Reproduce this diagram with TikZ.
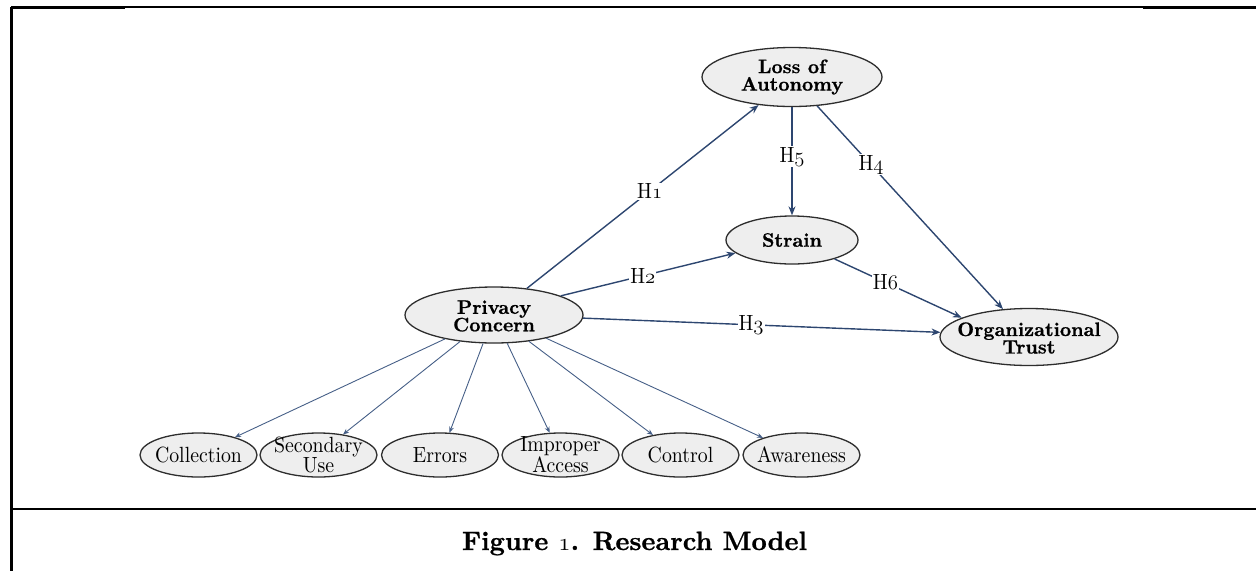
\documentclass[tikz,border=0pt]{standalone}
\usepackage{fontspec}
\setmainfont{lmroman10-regular.otf}[BoldFont=lmroman10-bold.otf, ItalicFont=lmroman10-italic.otf, BoldFeatures={FakeBold=0.8}]
\newfontfamily\narrowrm{lmroman10-regular.otf}[FakeStretch=0.9]
\usetikzlibrary{shapes.geometric,arrows.meta}
\definecolor{arr}{RGB}{45,70,112}
\definecolor{arrlight}{RGB}{70,95,135}
\definecolor{efill}{RGB}{238,238,238}
\definecolor{eline}{RGB}{45,45,45}
\newcommand{\osn}[1]{\legacyoldstylenums{#1}}
\begin{document}
\begin{tikzpicture}[x=1pt,y=-1pt,
  ell/.style={ellipse, draw=eline, fill=efill, line width=1.3pt, inner sep=0pt},
  bigtxt/.style={font=\fontsize{19.5}{17.5}\selectfont\bfseries, align=center, inner sep=0pt},
  smtxt/.style={font=\fontsize{22}{19}\selectfont\narrowrm, align=center, inner sep=0pt},
  harrow/.style={draw=arr, line width=1.4pt, -{Stealth[length=9pt,width=7pt]}},
  marrow/.style={draw=arrlight, line width=0.9pt, -{Stealth[length=6pt,width=5pt]}},
  hlab/.style={fill=white, inner sep=1pt, font=\fontsize{22}{22}\selectfont\narrowrm}]
\useasboundingbox (0,0) rectangle (1256,571);
% frame
\draw[line width=1.2pt] (11,7) -- (1256,7);
\draw[line width=2.6pt] (10,8) -- (125,8);
\draw[line width=2.6pt] (1143,8) -- (1256,8);
\draw[line width=2.5pt] (11.5,6.7) -- (11.5,571);
\draw[line width=2.5pt] (10,509) -- (1256,509);
% main nodes
\node[ell, minimum width=180, minimum height=59] (loa) at (792,77) {};
\node[bigtxt] (loat) at (792,77) {Loss of\\Autonomy};
\node[ell, minimum width=132, minimum height=48] (str) at (792,240) {};
\node[bigtxt] (strt) at (792,240) {Strain};
\node[ell, minimum width=178, minimum height=56] (pc) at (494,315) {};
\node[bigtxt] (pct) at (494,316) {Privacy\\Concern};
\node[ell, minimum width=178, minimum height=57] (ot) at (1029,337) {};
\node[bigtxt] (ott) at (1029,338) {Organizational\\Trust};
% bottom nodes
\foreach \nm/\xx/\tx in {coll/198.5/Collection, sec/318.5/{Secondary\\Use}, err/440/Errors, imp/560.5/{Improper\\Access}, con/680.5/Control, awa/801.5/Awareness}{
  \node[ell, minimum width=117, minimum height=44] (\nm) at (\xx,455) {};
  \node[smtxt] (\nm t) at (\xx,455) {\tx};
}
% hypotheses
\draw[harrow] (pc.39) -- node[hlab, pos=0.53] (h1) {H\osn{1}} (loa.220);
\draw[harrow] (pc.16) -- node[hlab, pos=0.47] (h2) {H\osn{2}} (str.193);
\draw[harrow] (pc.358) -- node[hlab, pos=0.47] (h3) {H\osn{3}} (ot.177);
\draw[harrow] (loa.311) -- node[hlab, pos=0.29] (h4) {H\osn{4}} (ot.133);
\draw[harrow] (loa.270) -- node[hlab, pos=0.46] (h5) {H\osn{5}} (str.90);
\draw[harrow] (str.336) -- node[hlab, pos=0.4] (h6) {H\osn{6}} (ot.164);
% dimensions
\draw[marrow] (pc.206) -- (coll.26);
\draw[marrow] (pc.218) -- (sec.40);
\draw[marrow] (pc.249) -- (err.67);
\draw[marrow] (pc.295) -- (imp.116);
\draw[marrow] (pc.323) -- (con.144);
\draw[marrow] (pc.336) -- (awa.156);
% caption
\node[font=\fontsize{26.5}{26.5}\selectfont\bfseries, anchor=base] (cap) at (634.5,550) {Figure \osn{1}. Research Model};
\end{tikzpicture}
\end{document}
